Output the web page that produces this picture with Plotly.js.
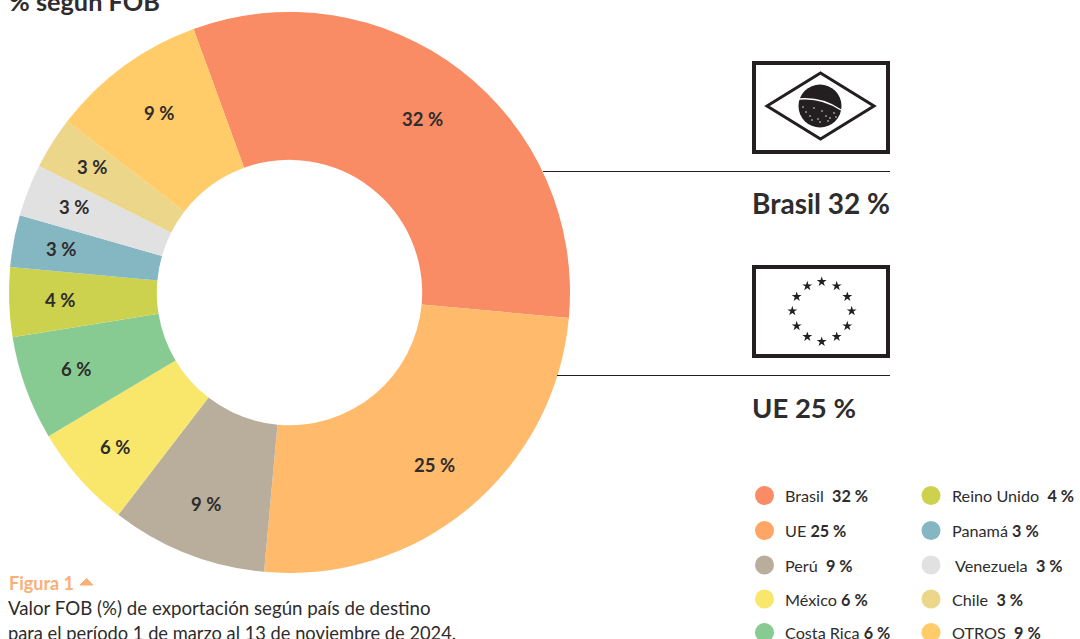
<!DOCTYPE html>
<html>
<head>
<meta charset="utf-8">
<script src="https://cdn.plot.ly/plotly-3.0.1.min.js"></script>
<style>html,body{margin:0;padding:0;background:#fff;overflow:hidden}#c{width:1080px;height:639px}</style>
</head>
<body>
<div id="c"></div>
<script>
const categories = ['Brasil','UE','Perú','México','Costa Rica','Reino Unido','Panamá','Venezuela','Chile','OTROS'];
const values = [32,25,9,6,6,4,3,3,3,9];
const sliceColors = ['#F98B65','#FFBB6B','#B9AD9B','#F9E76B','#87CB92','#CDD24E','#85B7C3','#E1E1E1','#EBD68A','#FFCC69'];
const legendColors = ['#F98B65','#FFA565','#B9AD9B','#F9E76B','#87CB92','#CDD24E','#85B7C3','#E1E1E1','#EBD68A','#FFCC69'];
const legendDotX = [764.5,764.5,764.5,764.5,764.5,931,931,931,931,931];
const legendDotY = [495.5,530.5,565,599,632.5,495.5,530.5,565,599,632.5];
const legendTextX = [783,783,783,783,783,950,950,953,950,950];
const legendGap = ['  ',' ','  ',' ',' ','  ',' ','  ','  ','  '];
const labelRadius = [218,226,228,234,227,230,232,232,233,221];
const starsX = [821.7,836.7,847.3,851.7,847.3,836.7,821.7,807.3,796.7,792.3,796.7,807.3];
const starsY = [281.7,286,296.7,311,326,336.7,341.7,336.7,326,311,296.7,286];
const speckX = [806,810,814,818,822,826,830,834,812,820,828,836,803];
const speckY = [112,116,108,119,111,116,118,113,120,122,121,117,107];

const INK = '#2e2c2c';
const FONT = 'Lato, "Open Sans", sans-serif';
const PIE_CX = 289.5, PIE_CY = 292.5, PIE_R = 280.5, ROTATION = -20;
const ann = (x,y,text,size,color) => ({xref:'x',yref:'y',x,y,text,showarrow:false,xanchor:'left',yanchor:'middle',
  align:'left',font:{family:FONT,size,color:color||INK}});

const annotations = [
  ann(7,1,'<b>% según FOB</b>',25.3),
  ann(750,203,'<b>Brasil 32 %</b>',28),
  ann(750,407,'<b>UE 25 %</b>',27.5),
  ann(7,583,'<b>Figura 1</b>',18,'#FBAE77'),
  ann(6,608,'Valor FOB (%) de exportación según país de destino',18.7),
  ann(6,632.5,'para el período 1 de marzo al 13 de noviembre de 2024.',18.3)
];
categories.forEach((c,i)=>{
  annotations.push(ann(legendTextX[i],legendDotY[i],c+legendGap[i]+'<b>'+values[i]+' %</b>',16.2));
});
const total = values.reduce((a,b)=>a+b,0);
let running = 0;
values.forEach((v,i)=>{
  const a = (ROTATION + 360*(running+v/2)/total)*Math.PI/180;
  running += v;
  annotations.push({xref:'x',yref:'y',x:PIE_CX+labelRadius[i]*Math.sin(a),y:PIE_CY-labelRadius[i]*Math.cos(a)-1,
    text:'<b>'+v+' %</b>',showarrow:false,xanchor:'center',yanchor:'middle',
    font:{family:FONT,size:18.5,color:INK}});
});

const rect = (x0,y0,x1,y1)=>({type:'rect',layer:'below',xref:'x',yref:'y',x0,y0,x1,y1,line:{color:'#231f20',width:4},fillcolor:'#fff'});
const hline = (x0,x1,y)=>({type:'line',xref:'x',yref:'y',x0,x1,y0:y,y1:y,line:{color:'#231f20',width:1}});
const shapes = [
  rect(754,63,888,152),
  {type:'path',layer:'below',xref:'x',yref:'y',path:'M767,106 L820.5,73 L874,106 L820.5,139 Z',line:{color:'#231f20',width:3},fillcolor:'#fff'},
  {type:'circle',layer:'below',xref:'x',yref:'y',x0:798.5,x1:841.5,y0:84.5,y1:127.5,line:{width:0},fillcolor:'#231f20'},
  {type:'path',layer:'below',xref:'x',yref:'y',path:'M799,99 Q822,97 841,110',line:{color:'#fff',width:1.5}},
  rect(754,267,888,356),
  hline(543,890,171.5),
  hline(557,890,375.5),
  {type:'path',xref:'x',yref:'y',path:'M80,585 L86.5,578.5 L93,585 Z',line:{color:'#FBAE77',width:1},fillcolor:'#FBAE77'}
];

const traces = [
  {type:'pie',labels:categories,values:values,sort:false,direction:'clockwise',rotation:ROTATION,hole:0.473,
   marker:{colors:sliceColors,line:{width:0}},
   textinfo:'none',hoverinfo:'label+value',showlegend:false,
   domain:{x:[(PIE_CX-PIE_R)/1080,(PIE_CX+PIE_R)/1080],y:[1-(PIE_CY+PIE_R)/639,1-(PIE_CY-PIE_R)/639]}},
  {type:'scatter',mode:'markers',x:legendDotX,y:legendDotY,hoverinfo:'skip',showlegend:false,
   marker:{size:19,color:legendColors,line:{width:0}}},
  {type:'scatter',mode:'markers',x:starsX,y:starsY,hoverinfo:'skip',showlegend:false,
   marker:{symbol:'star',size:7.5,color:'#231f20',line:{width:0}}},
  {type:'scatter',mode:'markers',x:speckX,y:speckY,hoverinfo:'skip',showlegend:false,
   marker:{size:1.5,color:'#fff',line:{width:0}}}
];

const layout = {
  width:1080,height:639,margin:{l:0,r:0,t:0,b:0},paper_bgcolor:'#fff',plot_bgcolor:'rgba(0,0,0,0)',showlegend:false,
  xaxis:{range:[0,1080],visible:false,domain:[0,1],fixedrange:true},
  yaxis:{range:[639,0],visible:false,domain:[0,1],fixedrange:true},
  annotations,shapes
};
Plotly.newPlot('c',traces,layout,{displayModeBar:false,staticPlot:true});
</script>
</body>
</html>
